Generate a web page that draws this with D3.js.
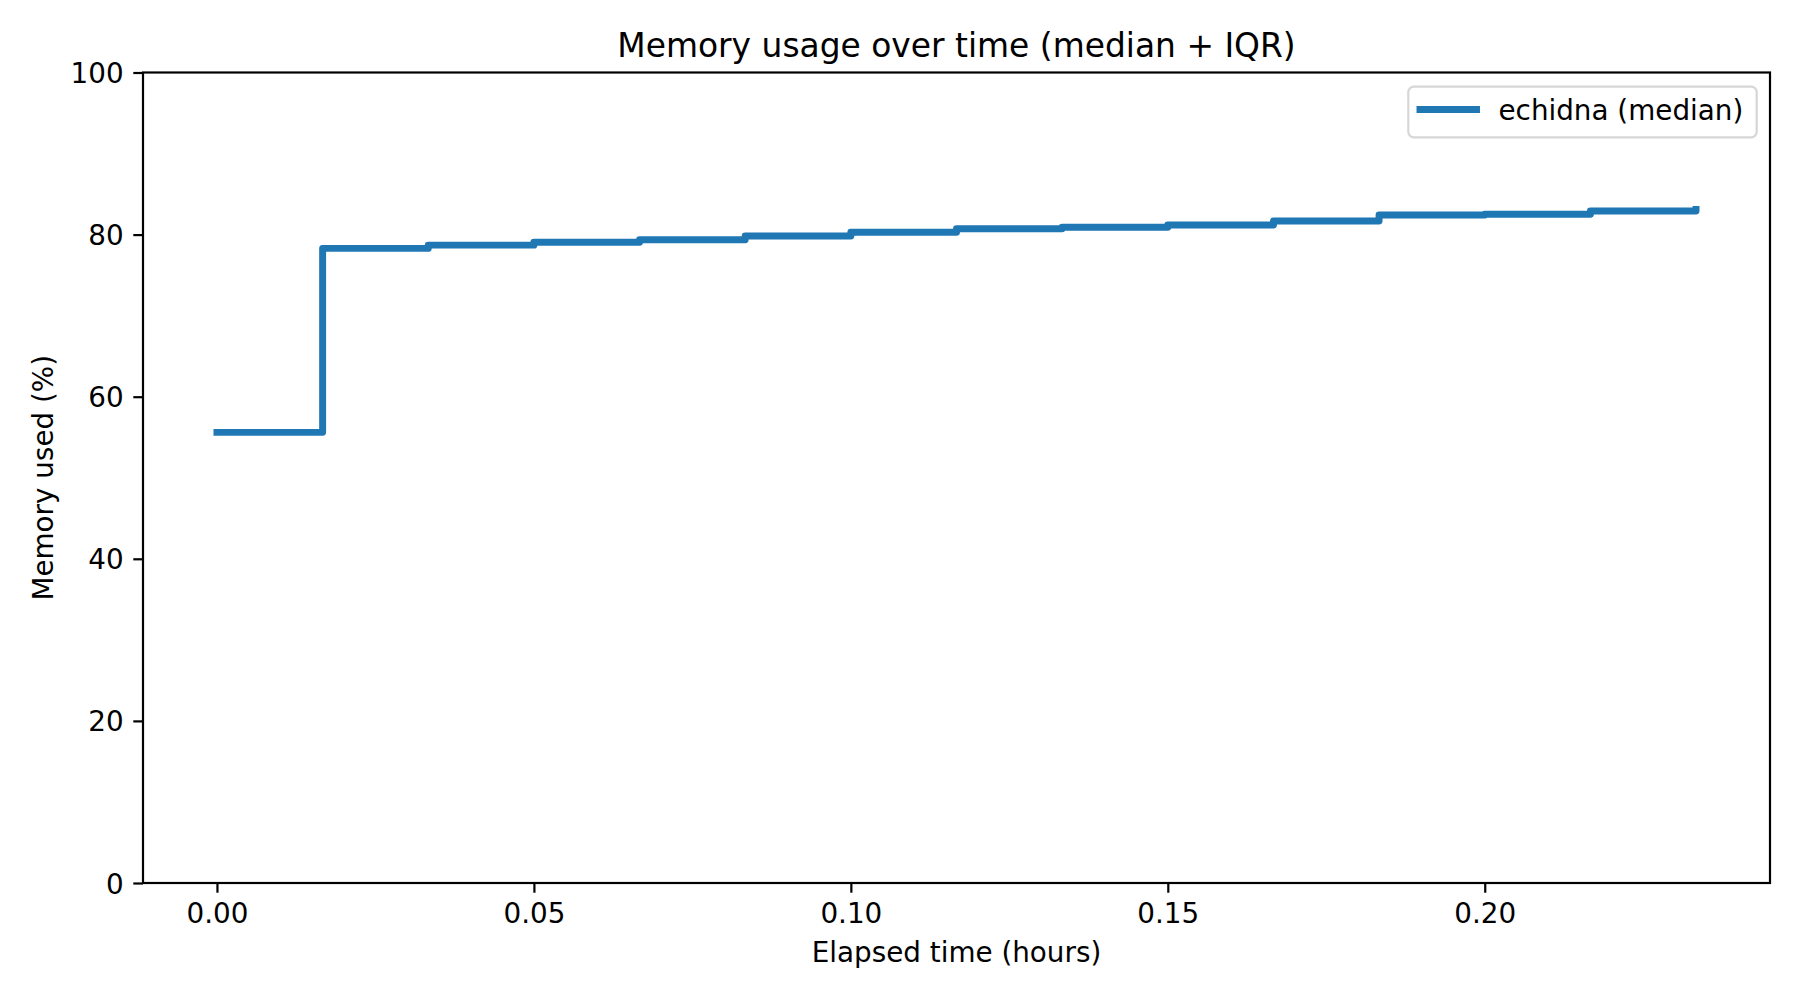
<!DOCTYPE html>
<html>
<head>
<meta charset="utf-8">
<script src="https://cdn.jsdelivr.net/npm/d3@7"></script>
<style>
  html, body { margin: 0; padding: 0; background: #fff; }
  svg { display: block; font-family: "DejaVu Sans", sans-serif; }
</style>
</head>
<body>
<svg id="chart" width="1800" height="1000"></svg>
<script>
// ---- data ----
const elapsedHours = [0, 0.01667, 0.03333, 0.05, 0.06667, 0.08333, 0.1, 0.11667, 0.13333, 0.15, 0.16667, 0.18333, 0.2, 0.21667, 0.23333];
const memoryMedian = [55.6, 78.3, 78.7, 79.05, 79.37, 79.82, 80.3, 80.73, 80.9, 81.19, 81.68, 82.42, 82.5, 82.91, 83.1];
const xTicks = [0, 0.05, 0.10, 0.15, 0.20];
const yTicks = [0, 20, 40, 60, 80, 100];
const seriesName = "echidna (median)";
const titleText = "Memory usage over time (median + IQR)";
const xLabelText = "Elapsed time (hours)";
const yLabelText = "Memory used (%)";

// ---- layout ----
const L = 143, R = 1770, T = 72.5, B = 883;
const fs = 27.8;
const svg = d3.select("#chart");

const x = d3.scaleLinear().domain([-0.011667, 0.245]).range([L, R]);
const y = d3.scaleLinear().domain([0, 100]).range([B, T]);

// line
const line = d3.line()
  .x((d, i) => x(elapsedHours[i]))
  .y(d => y(d))
  .curve(d3.curveStepAfter);

svg.append("path")
  .datum(memoryMedian)
  .attr("d", line)
  .attr("fill", "none")
  .attr("stroke", "#1f77b4")
  .attr("stroke-width", 6.94)
  .attr("stroke-linejoin", "round")
  .attr("stroke-linecap", "square");

// axes
const xAxis = d3.axisBottom(x).tickValues(xTicks).tickFormat(d3.format(".2f"))
  .tickSize(9.7).tickSizeOuter(0).tickPadding(9.7);
const gx = svg.append("g").attr("transform", `translate(0,${B})`).call(xAxis);
gx.select(".domain").remove();
gx.selectAll(".tick line").attr("stroke", "#000").attr("stroke-width", 2.2);
gx.selectAll(".tick text").attr("fill", "#000").style("font-size", fs + "px")
  .style("font-family", "DejaVu Sans").attr("dy", "0.74em");

const yAxis = d3.axisLeft(y).tickValues(yTicks).tickFormat(d3.format("d"))
  .tickSize(9.7).tickSizeOuter(0).tickPadding(9.7);
const gy = svg.append("g").attr("transform", `translate(${L},0)`).call(yAxis);
gy.select(".domain").remove();
gy.selectAll(".tick line").attr("stroke", "#000").attr("stroke-width", 2.2);
gy.selectAll(".tick text").attr("fill", "#000").style("font-size", fs + "px")
  .style("font-family", "DejaVu Sans").attr("dy", "0.36em");

// frame (spines)
svg.append("rect")
  .attr("x", L).attr("y", T).attr("width", R - L).attr("height", B - T)
  .attr("fill", "none").attr("stroke", "#000").attr("stroke-width", 2.2);

// title & labels
svg.append("text").attr("x", (L + R) / 2).attr("y", 56.5)
  .attr("text-anchor", "middle").style("font-size", "32.9px").attr("fill", "#000")
  .text(titleText);

svg.append("text").attr("x", (L + R) / 2).attr("y", 961.5)
  .attr("text-anchor", "middle").style("font-size", fs + "px").attr("fill", "#000")
  .text(xLabelText);

svg.append("text")
  .attr("transform", `translate(53,${(T + B) / 2}) rotate(-90)`)
  .attr("text-anchor", "middle").style("font-size", fs + "px").attr("fill", "#000")
  .text(yLabelText);

// legend
const lg = svg.append("g");
lg.append("rect")
  .attr("x", 1408.3).attr("y", 86.7).attr("width", 348.4).attr("height", 50.6)
  .attr("rx", 5.6).attr("ry", 5.6)
  .attr("fill", "#fff").attr("fill-opacity", 0.8)
  .attr("stroke", "#d6d6d6").attr("stroke-width", 2.2);
lg.append("line")
  .attr("x1", 1420).attr("x2", 1476.5).attr("y1", 109.5).attr("y2", 109.5)
  .attr("stroke", "#1f77b4").attr("stroke-width", 6.94).attr("stroke-linecap", "square");
lg.append("text").attr("x", 1498.5).attr("y", 119.5)
  .style("font-size", fs + "px").attr("fill", "#000").text(seriesName);
</script>
</body>
</html>
